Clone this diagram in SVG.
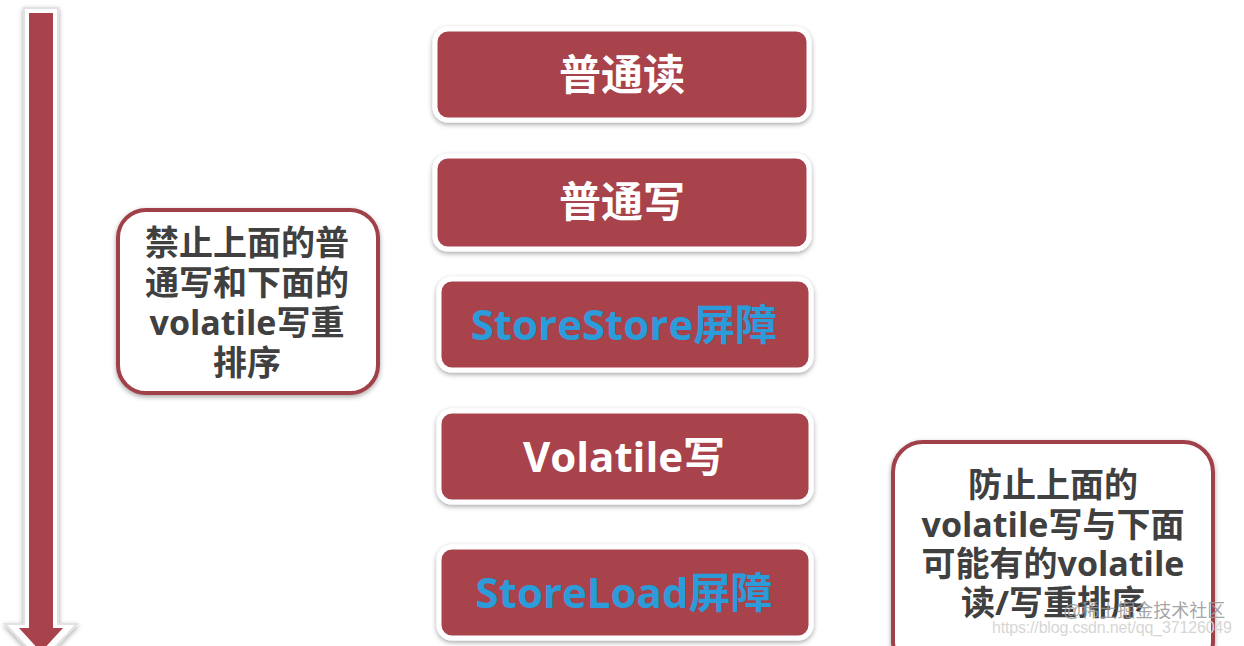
<svg xmlns="http://www.w3.org/2000/svg" width="1244" height="646" viewBox="0 0 1244 646">
<defs>
<filter id="sh" x="-10%" y="-10%" width="120%" height="130%">
<feDropShadow dx="0" dy="2" stdDeviation="2.5" flood-color="#000" flood-opacity="0.35"/>
</filter>
</defs>
<style>
.box{fill:#a8434c;stroke:#fff;stroke-width:5;filter:url(#sh)}
.bt{font-family:"Open Sans","Noto Sans CJK SC",sans-serif;font-weight:bold;font-size:42px;text-anchor:middle}
.w{fill:#fff}
.b{fill:#2b9bd9}
.call{fill:#fff;stroke:#a0404a;stroke-width:4;filter:url(#sh)}
.ct{font-family:"Open Sans","Noto Sans CJK SC",sans-serif;font-weight:bold;font-size:34px;fill:#404040;text-anchor:middle}
.wm{font-family:"Liberation Sans","Noto Sans CJK SC",sans-serif;fill:#9a9a9a}
</style>
<rect width="1244" height="646" fill="#fff"/>
<g id="arrow">
<polygon points="24,8 58,8 58,624 77,624 41,662 5,624 24,624" fill="#fff" stroke="#e2e2e2" stroke-width="2" filter="url(#sh)"/>
<polygon points="29,13 53,13 53,628 63,628 41,652 19,628 29,628" fill="#a8434c"/>
</g>
<g id="connectors"></g>
<g id="n1"><rect class="box" x="435" y="29" width="374" height="91" rx="13"/><text class="bt w" x="622" y="90">普通读</text></g>
<g id="n2"><rect class="box" x="435" y="156" width="374" height="93" rx="13"/><text class="bt w" x="622" y="217">普通写</text></g>
<g id="n3"><rect class="box" x="439" y="279" width="372" height="91" rx="13"/><text class="bt b" x="624" y="340">StoreStore屏障</text></g>
<g id="n4"><rect class="box" x="439" y="411" width="372" height="91" rx="13"/><text class="bt w" x="624" y="472">Volatile写</text></g>
<g id="n5"><rect class="box" x="439" y="547" width="372" height="91" rx="13"/><text class="bt b" x="624" y="608">StoreLoad屏障</text></g>
<g id="c1"><rect class="call" x="118" y="210" width="260" height="183" rx="28"/>
<text class="ct" x="247" y="255">禁止上面的普</text>
<text class="ct" x="247" y="295">通写和下面的</text>
<text class="ct" x="247" y="335">volatile写重</text>
<text class="ct" x="247" y="375">排序</text>
</g>
<g id="c2"><rect class="call" x="893" y="442" width="320" height="230" rx="30"/>
<text class="ct" x="1053" y="497">防止上面的</text>
<text class="ct" x="1053" y="537">volatile写与下面</text>
<text class="ct" x="1053" y="576">可能有的volatile</text>
<text class="ct" x="1053" y="615">读/写重排序</text>
</g>
<text class="wm" x="1063" y="617" font-size="18" fill-opacity="0.9">@稀土掘金技术社区</text>
<text class="wm" x="992" y="633" font-size="16" textLength="240" style="fill:#d6d6d6">https://blog.csdn.net/qq_37126049</text>
</svg>
